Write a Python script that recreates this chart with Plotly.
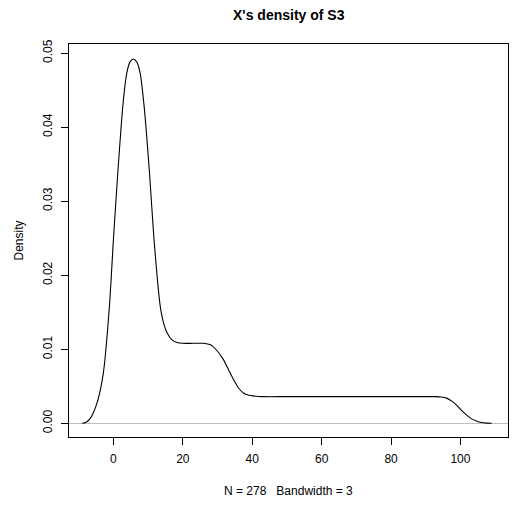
import plotly.graph_objects as go

# Density curve
dens_x = [-9.0, -8.0, -7.0, -6.0, -4.5, -2.9, -1.15, 0.0, 1.26, 2.7, 3.85, 4.8,
          5.76, 6.7, 7.7, 8.85, 10.4, 11.7, 13.5, 14.6, 15.5, 16.8, 18.3, 20.0,
          23.0, 25.9, 28.0, 29.5, 31.7, 33.2, 34.6, 36.0, 37.5, 39.0, 40.3, 43.0,
          50.0, 60.0, 70.0, 80.0, 90.0, 93.0, 94.5, 96.0, 97.5, 99.0, 100.4,
          101.8, 103.2, 104.6, 106.0, 107.5, 109.0]
dens_y = [0.0, 0.0001, 0.0005, 0.0012, 0.0031, 0.0068, 0.0158, 0.0248, 0.0338,
          0.0428, 0.0473, 0.0488, 0.0492, 0.0488, 0.0473, 0.0428, 0.0338, 0.0248,
          0.0158, 0.0133, 0.0122, 0.0113, 0.0109, 0.0108, 0.0108, 0.0108, 0.0106,
          0.0100, 0.0086, 0.0072, 0.0059, 0.0048, 0.0041, 0.0038, 0.0037, 0.0036,
          0.0036, 0.0036, 0.0036, 0.0036, 0.0036, 0.0036, 0.00355, 0.0034, 0.0030,
          0.0024, 0.0017, 0.0011, 0.0006, 0.0003, 0.0001, 0.00002, 0.0]

x_ticks = [0, 20, 40, 60, 80, 100]
y_ticks = [0.00, 0.01, 0.02, 0.03, 0.04, 0.05]
y_tick_labels = ["0.00", "0.01", "0.02", "0.03", "0.04", "0.05"]

title_text = "X's density of S3"
x_label = "N = 278\u00a0\u00a0\u00a0Bandwidth = 3"
y_label = "Density"

FONT = "Liberation Sans, Arial, Helvetica, sans-serif"

fig = go.Figure()
fig.add_trace(go.Scatter(x=dens_x, y=dens_y, mode="lines",
                         line=dict(color="black", width=1.1, shape="spline", smoothing=0.6),
                         hoverinfo="skip", showlegend=False))

fig.update_layout(
    template="none",
    width=516, height=506,
    margin=dict(l=69, r=8, t=44, b=69, autoexpand=False),
    paper_bgcolor="white", plot_bgcolor="white",
    font=dict(family=FONT, size=12, color="black"),
    showlegend=False,
    xaxis=dict(range=[-12.8, 113.7], tickvals=x_ticks, ticks="outside", ticklen=7,
               tickcolor="black", tickwidth=1, showline=True, linecolor="black",
               linewidth=1, mirror=True, showgrid=False, zeroline=False,
               automargin=False, tickfont=dict(size=12), ticklabelstandoff=4),
    yaxis=dict(range=[-0.00185, 0.05122], tickvals=y_ticks, ticktext=y_tick_labels,
               ticks="outside", ticklen=7, tickcolor="black", tickwidth=1,
               showline=True, linecolor="black", linewidth=1, mirror=True,
               showgrid=False, zeroline=True, zerolinecolor="#BEBEBE",
               zerolinewidth=1, tickangle=-90, tickfont=dict(size=12),
               automargin=False, ticklabelstandoff=4),
    annotations=[
        dict(text="<b>" + title_text + "</b>", xref="paper", yref="paper",
             x=0.5, y=1, yshift=29, xanchor="center", yanchor="middle",
             showarrow=False, font=dict(size=14, family=FONT)),
        dict(text=x_label, xref="paper", yref="paper", x=0.5, y=0, yshift=-54,
             xanchor="center", yanchor="middle", showarrow=False,
             font=dict(size=12, family=FONT)),
        dict(text=y_label, xref="paper", yref="paper", x=0, xshift=-51, y=0.5,
             xanchor="center", yanchor="middle", textangle=-90, showarrow=False,
             font=dict(size=12, family=FONT)),
    ],
)

fig.write_html("out.html", config={"displayModeBar": False, "staticPlot": True},
               post_script="document.body.style.margin='0';")
